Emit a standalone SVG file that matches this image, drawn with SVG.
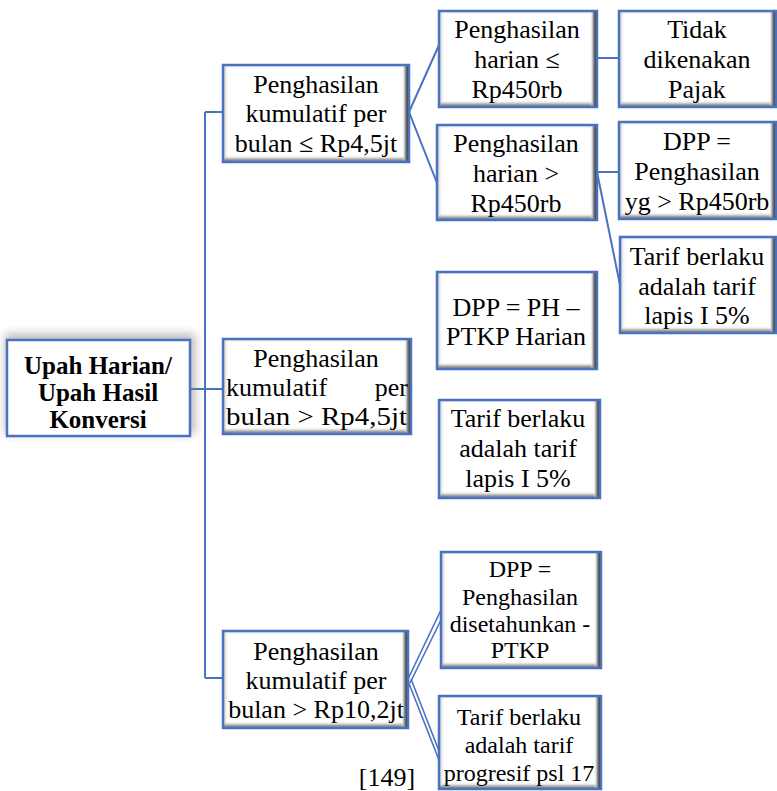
<svg xmlns="http://www.w3.org/2000/svg" width="777" height="791" viewBox="0 0 777 791">
<style>
.face{fill:#ffffff}
.bd{fill:none;stroke:#4a72c0;stroke-width:2.5}
text{font-family:'Liberation Serif','Times New Roman',Times,serif}
.t{font-size:26px;fill:#000;text-anchor:middle}
.st{text-anchor:start}
.en{text-anchor:end}
.s{font-size:24px}
.b{font-weight:bold;font-size:25px}
.c{fill:none;stroke:#4a72c0;stroke-width:2}
.c2{fill:none;stroke:#4a72c0;stroke-width:1.6}
</style>
<defs>
<linearGradient id="gL" x1="0" y1="0" x2="1" y2="0"><stop offset="0" stop-color="#b8b8b8"/><stop offset="1" stop-color="#ffffff" stop-opacity="0"/></linearGradient>
<linearGradient id="gT" x1="0" y1="0" x2="0" y2="1"><stop offset="0" stop-color="#d0d0d0"/><stop offset="1" stop-color="#ffffff" stop-opacity="0"/></linearGradient>
<linearGradient id="gB" x1="0" y1="0" x2="0" y2="1"><stop offset="0" stop-color="#ffffff" stop-opacity="0"/><stop offset="0.6" stop-color="#a8a8a8"/><stop offset="1" stop-color="#707070"/></linearGradient>
<linearGradient id="gR" x1="0" y1="0" x2="1" y2="0"><stop offset="0" stop-color="#ffffff" stop-opacity="0"/><stop offset="0.5" stop-color="#8c8c8c"/><stop offset="1" stop-color="#141414"/></linearGradient>
<filter id="sh" x="-20%" y="-30%" width="140%" height="160%"><feGaussianBlur stdDeviation="5"/></filter>
</defs>

<g id="connectors">
<path class="c" d="M205,112 V678"/>
<path class="c" d="M205,112 H223"/>
<path class="c" d="M190,389 H223"/>
<path class="c" d="M205,678 H223"/>
<path class="c" d="M409,112 L439,45"/>
<path class="c" d="M409,112 L437,183"/>
<path class="c" d="M597,58 H619"/>
<path class="c" d="M597,172 H619"/>
<path class="c" d="M597,172 L620,285"/>
<path class="c2" d="M408,679 L441,610"/>
<path class="c2" d="M410,683 L441,620"/>
<path class="c2" d="M408,681 L439,760"/>
<path class="c2" d="M411,679 L439,751"/>
</g>

<g id="n-root">
<rect x="5" y="334" width="190" height="100" fill="#808080" opacity="0.55" filter="url(#sh)"/>
<rect class="face" x="7" y="340" width="183" height="96"/>
<rect class="bd" x="7" y="340" width="183" height="96"/>
<text class="t b" x="98" y="374">Upah Harian/</text>
<text class="t b" x="98" y="401">Upah Hasil</text>
<text class="t b" x="98" y="428">Konversi</text>
</g>

<g id="n-a">
<rect class="face" x="223" y="65" width="186" height="97"/>
<rect x="223" y="65" width="186" height="4" fill="url(#gT)"/>
<rect x="223" y="65" width="6" height="97" fill="url(#gL)"/>
<rect x="223" y="155" width="186" height="7" fill="url(#gB)"/>
<rect x="402" y="65" width="7" height="97" fill="url(#gR)"/>
<rect class="bd" x="223" y="65" width="186" height="97"/>
<text class="t" x="316" y="93">Penghasilan</text>
<text class="t" x="316" y="122">kumulatif per</text>
<text class="t" x="316" y="152">bulan ≤ Rp4,5jt</text>
</g>

<g id="n-b">
<rect class="face" x="223" y="339" width="188" height="95"/>
<rect x="223" y="339" width="188" height="4" fill="url(#gT)"/>
<rect x="223" y="339" width="6" height="95" fill="url(#gL)"/>
<rect x="223" y="427" width="188" height="7" fill="url(#gB)"/>
<rect x="404" y="339" width="7" height="95" fill="url(#gR)"/>
<rect class="bd" x="223" y="339" width="188" height="95"/>
<text class="t" x="316" y="367">Penghasilan</text>
<text class="t st" x="226" y="396">kumulatif</text>
<text class="t en" x="408" y="396">per</text>
<text class="t st" x="226" y="425" textLength="181" lengthAdjust="spacingAndGlyphs">bulan &gt; Rp4,5jt</text>
</g>

<g id="n-c">
<rect class="face" x="223" y="631" width="185" height="97"/>
<rect x="223" y="631" width="185" height="4" fill="url(#gT)"/>
<rect x="223" y="631" width="6" height="97" fill="url(#gL)"/>
<rect x="223" y="721" width="185" height="7" fill="url(#gB)"/>
<rect x="401" y="631" width="7" height="97" fill="url(#gR)"/>
<rect class="bd" x="223" y="631" width="185" height="97"/>
<text class="t" x="316" y="660">Penghasilan</text>
<text class="t" x="316" y="689">kumulatif per</text>
<text class="t" x="316" y="718">bulan &gt; Rp10,2jt</text>
</g>

<g id="n-d1">
<rect class="face" x="439" y="11" width="158" height="96"/>
<rect x="439" y="11" width="158" height="4" fill="url(#gT)"/>
<rect x="439" y="11" width="6" height="96" fill="url(#gL)"/>
<rect x="439" y="100" width="158" height="7" fill="url(#gB)"/>
<rect x="590" y="11" width="7" height="96" fill="url(#gR)"/>
<rect class="bd" x="439" y="11" width="158" height="96"/>
<text class="t" x="517" y="38">Penghasilan</text>
<text class="t" x="517" y="68">harian ≤</text>
<text class="t" x="517" y="98">Rp450rb</text>
</g>

<g id="n-d2">
<rect class="face" x="437" y="125" width="160" height="95"/>
<rect x="437" y="125" width="160" height="4" fill="url(#gT)"/>
<rect x="437" y="125" width="6" height="95" fill="url(#gL)"/>
<rect x="437" y="213" width="160" height="7" fill="url(#gB)"/>
<rect x="590" y="125" width="7" height="95" fill="url(#gR)"/>
<rect class="bd" x="437" y="125" width="160" height="95"/>
<text class="t" x="516" y="152">Penghasilan</text>
<text class="t" x="516" y="182">harian &gt;</text>
<text class="t" x="516" y="212">Rp450rb</text>
</g>

<g id="n-e1">
<rect class="face" x="619" y="11" width="157" height="96"/>
<rect x="619" y="11" width="157" height="4" fill="url(#gT)"/>
<rect x="619" y="11" width="6" height="96" fill="url(#gL)"/>
<rect x="619" y="100" width="157" height="7" fill="url(#gB)"/>
<rect x="769" y="11" width="7" height="96" fill="url(#gR)"/>
<rect class="bd" x="619" y="11" width="157" height="96"/>
<text class="t" x="697" y="38">Tidak</text>
<text class="t" x="697" y="68">dikenakan</text>
<text class="t" x="697" y="98">Pajak</text>
</g>

<g id="n-e2">
<rect class="face" x="619" y="122" width="157" height="97"/>
<rect x="619" y="122" width="157" height="4" fill="url(#gT)"/>
<rect x="619" y="122" width="6" height="97" fill="url(#gL)"/>
<rect x="619" y="212" width="157" height="7" fill="url(#gB)"/>
<rect x="769" y="122" width="7" height="97" fill="url(#gR)"/>
<rect class="bd" x="619" y="122" width="157" height="97"/>
<text class="t" x="697" y="150">DPP =</text>
<text class="t" x="697" y="180">Penghasilan</text>
<text class="t" x="697" y="210">yg &gt; Rp450rb</text>
</g>

<g id="n-e3">
<rect class="face" x="620" y="237" width="156" height="96"/>
<rect x="620" y="237" width="156" height="4" fill="url(#gT)"/>
<rect x="620" y="237" width="6" height="96" fill="url(#gL)"/>
<rect x="620" y="326" width="156" height="7" fill="url(#gB)"/>
<rect x="769" y="237" width="7" height="96" fill="url(#gR)"/>
<rect class="bd" x="620" y="237" width="156" height="96"/>
<text class="t" x="697" y="265">Tarif berlaku</text>
<text class="t" x="697" y="295">adalah tarif</text>
<text class="t" x="697" y="324">lapis I 5%</text>
</g>

<g id="n-f1">
<rect class="face" x="437" y="272" width="160" height="97"/>
<rect x="437" y="272" width="160" height="4" fill="url(#gT)"/>
<rect x="437" y="272" width="6" height="97" fill="url(#gL)"/>
<rect x="437" y="362" width="160" height="7" fill="url(#gB)"/>
<rect x="590" y="272" width="7" height="97" fill="url(#gR)"/>
<rect class="bd" x="437" y="272" width="160" height="97"/>
<text class="t" x="516" y="316">DPP = PH –</text>
<text class="t" x="516" y="345">PTKP Harian</text>
</g>

<g id="n-f2">
<rect class="face" x="439" y="400" width="161" height="98"/>
<rect x="439" y="400" width="161" height="4" fill="url(#gT)"/>
<rect x="439" y="400" width="6" height="98" fill="url(#gL)"/>
<rect x="439" y="491" width="161" height="7" fill="url(#gB)"/>
<rect x="593" y="400" width="7" height="98" fill="url(#gR)"/>
<rect class="bd" x="439" y="400" width="161" height="98"/>
<text class="t" x="518" y="427">Tarif berlaku</text>
<text class="t" x="518" y="457">adalah tarif</text>
<text class="t" x="518" y="487">lapis I 5%</text>
</g>

<g id="n-g1">
<rect class="face" x="441" y="552" width="160" height="116"/>
<rect x="441" y="552" width="160" height="4" fill="url(#gT)"/>
<rect x="441" y="552" width="6" height="116" fill="url(#gL)"/>
<rect x="441" y="661" width="160" height="7" fill="url(#gB)"/>
<rect x="594" y="552" width="7" height="116" fill="url(#gR)"/>
<rect class="bd" x="441" y="552" width="160" height="116"/>
<text class="t s" x="520" y="577">DPP =</text>
<text class="t s" x="520" y="605">Penghasilan</text>
<text class="t s" x="520" y="632">disetahunkan -</text>
<text class="t s" x="520" y="658">PTKP</text>
</g>

<g id="n-g2">
<rect class="face" x="439" y="696" width="162" height="93"/>
<rect x="439" y="696" width="162" height="4" fill="url(#gT)"/>
<rect x="439" y="696" width="6" height="93" fill="url(#gL)"/>
<rect x="439" y="782" width="162" height="7" fill="url(#gB)"/>
<rect x="594" y="696" width="7" height="93" fill="url(#gR)"/>
<rect class="bd" x="439" y="696" width="162" height="93"/>
<text class="t s" x="519" y="725">Tarif berlaku</text>
<text class="t s" x="519" y="753">adalah tarif</text>
<text class="t s" x="519" y="781">progresif psl 17</text>
</g>

<g id="caption">
<text class="t" x="387" y="786">[149]</text>
</g>
</svg>
